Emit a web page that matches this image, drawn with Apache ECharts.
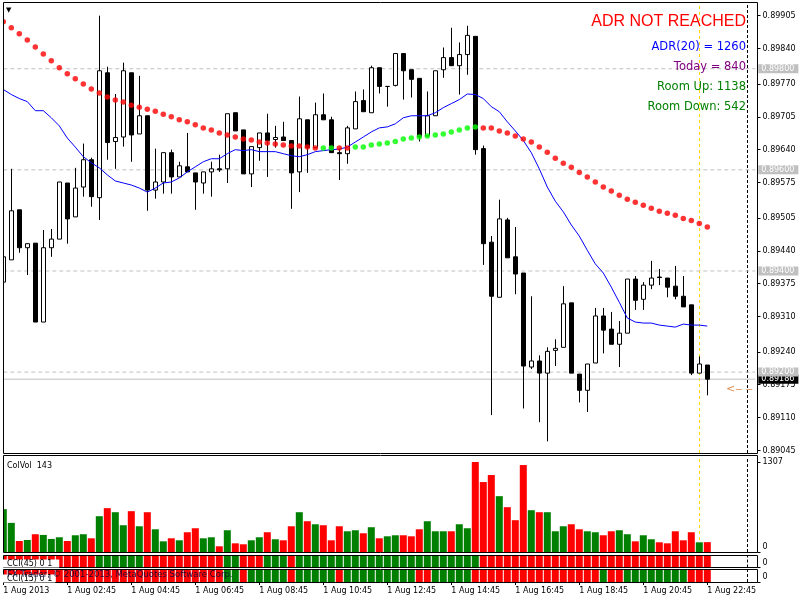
<!DOCTYPE html>
<html>
<head>
<meta charset="utf-8">
<script src="https://cdn.jsdelivr.net/npm/echarts@6/dist/echarts.min.js"></script>
<style>
html,body{margin:0;padding:0;background:#fff;}
#chart{width:800px;height:600px;}
</style>
</head>
<body>
<div id="chart"></div>
<script>
// M15 bars, 1 Aug 2013 00:45 .. 22:45  (open, close, low, high)
const candles = [
    [0.89378,0.89428,0.89362,0.89604],[0.89422,0.89519,0.89422,0.89602],[0.89521,0.89446,0.89436,0.89521],
    [0.89446,0.89454,0.89392,0.89455],[0.89455,0.89299,0.89299,0.89455],[0.89299,0.89446,0.89299,0.89481],
    [0.89446,0.89463,0.89428,0.89483],[0.89463,0.89576,0.89463,0.89576],[0.89574,0.89503,0.89454,0.89574],
    [0.89507,0.89564,0.89507,0.89604],[0.89566,0.89620,0.89547,0.89652],[0.89620,0.89547,0.89527,0.89624],
    [0.89545,0.89796,0.89501,0.89905],[0.89792,0.89654,0.89620,0.89804],[0.89656,0.89664,0.89602,0.89750],
    [0.89665,0.89796,0.89646,0.89812],[0.89792,0.89669,0.89616,0.89792],[0.89671,0.89707,0.89671,0.89786],
    [0.89707,0.89560,0.89519,0.89707],[0.89560,0.89576,0.89543,0.89642],[0.89576,0.89634,0.89553,0.89634],
    [0.89634,0.89586,0.89553,0.89640],[0.89586,0.89608,0.89586,0.89616],[0.89606,0.89596,0.89596,0.89673],
    [0.89594,0.89576,0.89521,0.89594],[0.89574,0.89596,0.89553,0.89596],[0.89596,0.89602,0.89547,0.89616],
    [0.89602,0.89600,0.89596,0.89630],[0.89602,0.89711,0.89574,0.89711],[0.89713,0.89677,0.89677,0.89713],
    [0.89679,0.89592,0.89592,0.89679],[0.89592,0.89646,0.89566,0.89646],[0.89644,0.89673,0.89618,0.89673],
    [0.89673,0.89658,0.89586,0.89711],[0.89660,0.89664,0.89644,0.89687],[0.89665,0.89658,0.89658,0.89695],
    [0.89658,0.89594,0.89523,0.89658],[0.89596,0.89701,0.89556,0.89745],[0.89699,0.89644,0.89594,0.89699],
    [0.89644,0.89709,0.89644,0.89733],[0.89709,0.89699,0.89699,0.89751],[0.89699,0.89634,0.89634,0.89705],
    [0.89634,0.89632,0.89580,0.89642],[0.89632,0.89683,0.89612,0.89687],[0.89681,0.89735,0.89681,0.89755],
    [0.89737,0.89715,0.89715,0.89759],[0.89713,0.89802,0.89713,0.89806],[0.89802,0.89765,0.89751,0.89802],
    [0.89765,0.89765,0.89725,0.89765],[0.89767,0.89830,0.89765,0.89830],[0.89830,0.89796,0.89739,0.89830],
    [0.89798,0.89779,0.89743,0.89798],[0.89781,0.89665,0.89656,0.89781],[0.89667,0.89707,0.89667,0.89755],
    [0.89707,0.89796,0.89707,0.89796],[0.89798,0.89822,0.89782,0.89842],[0.89822,0.89806,0.89806,0.89881],
    [0.89806,0.89828,0.89749,0.89852],[0.89828,0.89866,0.89788,0.89885],[0.89864,0.89640,0.89630,0.89864],
    [0.89642,0.89454,0.89412,0.89648],[0.89457,0.89350,0.89115,0.89469],[0.89348,0.89503,0.89348,0.89541],
    [0.89501,0.89426,0.89426,0.89505],[0.89428,0.89394,0.89354,0.89487],[0.89396,0.89212,0.89128,0.89396],
    [0.89210,0.89222,0.89206,0.89350],[0.89222,0.89198,0.89101,0.89233],[0.89198,0.89241,0.89063,0.89249],
    [0.89243,0.89247,0.89212,0.89265],[0.89249,0.89335,0.89249,0.89370],[0.89337,0.89198,0.89198,0.89337],
    [0.89196,0.89164,0.89140,0.89196],[0.89164,0.89216,0.89121,0.89216],[0.89218,0.89311,0.89218,0.89327],
    [0.89311,0.89283,0.89237,0.89327],[0.89285,0.89255,0.89255,0.89319],[0.89255,0.89277,0.89210,0.89301],
    [0.89277,0.89384,0.89277,0.89384],[0.89384,0.89342,0.89323,0.89390],[0.89344,0.89372,0.89323,0.89378],
    [0.89372,0.89386,0.89364,0.89420],[0.89388,0.89387,0.89372,0.89404],[0.89386,0.89368,0.89348,0.89386],
    [0.89370,0.89350,0.89344,0.89410],[0.89350,0.89329,0.89329,0.89390],[0.89333,0.89198,0.89194,0.89333],
    [0.89198,0.89216,0.89198,0.89231],[0.89214,0.89186,0.89154,0.89214]
];

// blue moving average
const maLine = [
    0.89759,0.89749,0.89741,0.89735,0.89717,0.89717,0.89703,0.89687,0.89663,0.89645,
    0.89626,0.89614,0.89604,0.89590,0.89578,0.89574,0.89570,0.89564,0.89556,0.89564,
    0.89574,0.89576,0.89584,0.89596,0.89606,0.89616,0.89622,0.89622,0.89632,0.89640,
    0.89638,0.89640,0.89636,0.89636,0.89636,0.89632,0.89628,0.89626,0.89630,0.89636,
    0.89638,0.89640,0.89641,0.89645,0.89655,0.89665,0.89675,0.89683,0.89685,0.89691,
    0.89703,0.89707,0.89707,0.89707,0.89713,0.89723,0.89731,0.89739,0.89750,0.89749,
    0.89741,0.89725,0.89715,0.89695,0.89677,0.89658,0.89634,0.89602,0.89566,0.89538,
    0.89517,0.89491,0.89469,0.89441,0.89414,0.89396,0.89368,0.89338,0.89307,0.89299,
    0.89297,0.89297,0.89293,0.89291,0.89289,0.89295,0.89293,0.89293,0.89291
];

// red / lime dotted curve
const dotLine = [
    0.89893,0.89881,0.89869,0.89857,0.89843,0.89829,0.89816,0.89802,0.89790,0.89780,
    0.89770,0.89760,0.89752,0.89744,0.89738,0.89734,0.89728,0.89724,0.89720,0.89716,
    0.89710,0.89705,0.89699,0.89695,0.89689,0.89683,0.89679,0.89673,0.89669,0.89665,
    0.89661,0.89659,0.89655,0.89653,0.89651,0.89649,0.89647,0.89647,0.89645,0.89643,
    0.89643,0.89643,0.89643,0.89643,0.89645,0.89645,0.89649,0.89651,0.89653,0.89656,
    0.89661,0.89663,0.89665,0.89667,0.89669,0.89671,0.89675,0.89679,0.89683,0.89685,
    0.89683,0.89683,0.89677,0.89673,0.89667,0.89661,0.89655,0.89645,0.89635,0.89623,
    0.89613,0.89605,0.89595,0.89586,0.89576,0.89566,0.89558,0.89550,0.89542,0.89536,
    0.89530,0.89524,0.89518,0.89514,0.89510,0.89504,0.89500,0.89494,0.89487
];
const dotUpBars = [40,41,44,45,46,47,48,49,50,51,52,53,54,55,56,57,58,59];

const volumes = [
    622,423,160,175,258,248,190,214,160,243,258,199,520,637,578,389,593,374,578,330,
    155,199,170,287,345,199,214,83,316,126,112,170,214,287,185,170,374,578,447,403,
    389,170,374,301,316,272,360,199,228,243,243,228,330,447,301,301,301,403,345,1307,
    1016,1118,811,651,462,1263,607,578,578,301,374,403,330,301,287,243,301,316,258,155,
    243,185,141,126,301,170,287,141,143
];

// 1 = green, 0 = red
const cci45 = [
    0,0,0,0,0,0,0,0,0,0,0,0,1,1,1,1,1,1,0,0,
    0,0,0,0,0,0,0,0,1,1,0,0,0,1,1,1,0,1,1,1,
    1,1,1,1,1,1,1,1,1,1,1,1,1,1,1,1,1,1,1,1,
    0,0,0,0,0,0,0,0,0,0,0,0,0,0,0,0,0,0,0,0,
    0,0,0,0,0,0,0,0,0
];
const cci15 = [
    0,0,0,0,0,0,0,0,0,0,0,0,0,0,0,0,0,0,0,0,
    0,0,0,0,0,0,0,0,1,1,0,1,1,1,1,1,0,1,1,1,
    1,1,0,1,1,1,1,1,1,1,1,1,0,0,1,1,1,1,1,0,
    0,0,0,0,0,0,0,0,0,0,0,0,0,0,0,1,0,0,1,1,
    1,1,1,1,1,1,0,0,0
];

const priceTicks = [0.89905,0.89840,0.89770,0.89705,0.89640,0.89575,0.89505,0.89440,0.89375,0.89310,0.89240,0.89175,0.89110,0.89045];
const levelLines = [0.89800,0.89600,0.89400,0.89200];
const bidPrice = 0.89186;
const arrowPrice = 0.89166;
const volTicks = [0,1307];
const timeTicks = ['1 Aug 2013','1 Aug 02:45','1 Aug 04:45','1 Aug 06:45','1 Aug 08:45','1 Aug 10:45',
    '1 Aug 12:45','1 Aug 14:45','1 Aug 16:45','1 Aug 18:45','1 Aug 20:45','1 Aug 22:45'];
const infoLines = [
    {text:'ADR NOT REACHED', color:'#FF0000'},
    {text:'ADR(20) = 1260', color:'#0000FF'},
    {text:'Today = 840', color:'#800080'},
    {text:'Room Up: 1138', color:'#008000'},
    {text:'Room Down: 542', color:'#008000'}
];

const SLOTS = 95;       // bars + chart shift
const periodBar = 87;   // yellow separator
const shiftBar = 93;    // black dashed shift line
const FONT = 'DejaVu Sans';
const GREEN = '#008000', RED = '#FF0000';

const categories = [];
for (let i = 0; i < SLOTS; i++) {
    const m = 45 + 15 * i;
    categories.push(String(Math.floor(m / 60) % 24).padStart(2, '0') + ':' + String(m % 60).padStart(2, '0') + '#' + i);
}

const chart = echarts.init(document.getElementById('chart'));

const gridBase = {left: -0.7, width: 760, outerBoundsMode: 'none', containLabel: false};
const lowRich = {lo: {fontSize: 8, fontFamily: FONT, color: '#000', padding: [0, 0, 10, 0]}};
function sideAxis(grid, min, max, ticks, fmt) {
    return {
        type: 'value', gridIndex: grid, position: 'right', min: min, max: max, offset: -1.8,
        splitLine: {show: false}, axisLine: {show: false},
        axisTick: {show: true, customValues: ticks, length: 3, lineStyle: {color: '#000'}},
        axisLabel: {customValues: ticks, formatter: fmt, fontSize: 8, fontFamily: FONT, color: '#000', margin: 5, rich: lowRich}
    };
}
function catAxis(grid, showIt) {
    const every = (i) => i % 8 === 0 && i <= 88;
    return {
        type: 'category', gridIndex: grid, data: categories, boundaryGap: true, show: showIt,
        axisLine: {show: false},
        axisTick: {show: true, alignWithLabel: true, interval: every, length: 3, lineStyle: {color: '#000'}},
        axisLabel: {interval: every, align: 'left', margin: 5, fontSize: 8, fontFamily: FONT, color: '#000',
            formatter: (v, idx) => timeTicks[idx / 8]}
    };
}
const vLine = (bar, color, dash) => ({xAxis: bar, lineStyle: {color: color, type: dash, width: 1}, label: {show: false}});

// horizontal price level drawn across the whole main panel, with a price box at its right end
function levelSeries(price, dash, boxColor) {
    return {
        type: 'line', xAxisIndex: 0, yAxisIndex: 0, z: 1, silent: true, showSymbol: false,
        data: [[0, price], [SLOTS - 1, price]],
        lineStyle: {color: '#C0C0C0', type: dash, width: 1},
        endLabel: {show: true, distance: 3, formatter: () => price.toFixed(5), color: '#fff',
            backgroundColor: boxColor, padding: [1, 4, 0, 3], fontSize: 8, fontFamily: FONT}
    };
}

const frames = [[3.5, 2.5, 754, 451], [3.5, 455.5, 754, 97], [3.5, 555.5, 754, 12], [3.5, 569.5, 754, 13]];

const graphics = [
    {type: 'rect', shape: {x: 0, y: 0, width: 3, height: 584}, style: {fill: '#fff'}, z: 49, silent: true}
];
frames.forEach(f => graphics.push({type: 'rect', shape: {x: f[0], y: f[1], width: f[2], height: f[3]},
    style: {fill: 'none', stroke: '#000', lineWidth: 1}, z: 50, silent: true}));
const infoY = [21.5, 47, 67, 87, 107];
infoLines.forEach((ln, k) => graphics.push({type: 'text', x: 746, y: infoY[k], z: 60, silent: true,
    style: {text: ln.text, fill: ln.color, align: 'right', verticalAlign: 'middle',
        fontSize: k === 0 ? 16 : 11.5, fontFamily: k === 0 ? 'Liberation Sans' : FONT}}));
graphics.push(
    {type: 'text', x: 6, y: 10, z: 60, silent: true, style: {text: '▼', fill: '#000', fontSize: 7, fontFamily: FONT, verticalAlign: 'middle'}},
    {type: 'text', x: 7, y: 466, z: 60, silent: true, style: {text: 'ColVol  ' + volumes[volumes.length - 1], fill: '#000', fontSize: 8, fontFamily: FONT, verticalAlign: 'middle'}},
    {type: 'text', x: 3, y: 559.5, z: 60, silent: true, style: {text: 'CCI(45) 0 1', fill: '#000', fontSize: 8, fontFamily: FONT,
        verticalAlign: 'top', backgroundColor: '#fff', padding: [0, 7, 0, 4]}},
    {type: 'text', x: 3, y: 574.5, z: 60, silent: true, style: {text: 'CCI(15) 0 1', fill: '#000', fontSize: 8, fontFamily: FONT,
        verticalAlign: 'top', backgroundColor: '#fff', padding: [0, 3, 0, 4]}},
    {type: 'text', x: 7, y: 575, z: 61, silent: true, style: {text: 'FX Trader, \u00a9 2001-2013, MetaQuotes Software Corp.',
        fill: 'rgba(10,10,60,0.9)', fontSize: 8.5, fontFamily: FONT, verticalAlign: 'middle'}}
);

const cciBars = arr => arr.map(v => ({value: 1, itemStyle: {color: v ? GREEN : RED}}));

chart.setOption({
    animation: false,
    backgroundColor: '#fff',
    grid: [
        Object.assign({top: 3, height: 450}, gridBase),
        Object.assign({top: 457, height: 95}, gridBase),
        Object.assign({top: 556, height: 11.5}, gridBase),
        Object.assign({top: 570, height: 12}, gridBase)
    ],
    xAxis: [catAxis(0, false), catAxis(1, false), catAxis(2, false), catAxis(3, true)],
    yAxis: [
        sideAxis(0, 0.89040, 0.89930, priceTicks, v => v.toFixed(5)),
        sideAxis(1, 0, 1380, volTicks, v => v === 0 ? '{lo|0}' : String(v)),
        sideAxis(2, 0, 1, [0], () => '{lo|0}'),
        sideAxis(3, 0, 1, [0], () => '{lo|0}')
    ],
    graphic: graphics,
    series: [
        levelSeries(bidPrice, 'solid', '#000'),
        ...levelLines.map(p => levelSeries(p, [4, 3], '#C0C0C0')),
        {
            type: 'candlestick', xAxisIndex: 0, yAxisIndex: 0, data: candles, barWidth: 4, z: 2,
            itemStyle: {color: '#fff', color0: '#000', borderColor: '#000', borderColor0: '#000', borderColorDoji: '#000', borderWidth: 1}
        },
        {
            type: 'line', xAxisIndex: 0, yAxisIndex: 0, data: maLine, showSymbol: false, z: 3, silent: true,
            lineStyle: {color: '#0000FF', width: 1},
            markLine: {
                z: 1, silent: true, symbol: 'none', label: {show: false}, animation: false,
                data: [vLine(periodBar, '#FFD700', [3, 3]), vLine(shiftBar, '#000', [3, 2])]
            }
        },
        {
            type: 'scatter', xAxisIndex: 0, yAxisIndex: 0, symbolSize: 5.5, z: 4, silent: true,
            data: dotLine.map((v, i) => ({value: [i, v], itemStyle: {color: dotUpBars.includes(i) ? '#00FF00' : '#FF0000'}}))
        },
        {
            type: 'scatter', xAxisIndex: 0, yAxisIndex: 0, symbolSize: 1, z: 4, silent: true,
            itemStyle: {color: 'rgba(0,0,0,0)'},
            label: {show: true, position: 'inside', formatter: '<\u2012 \u2012', color: '#D2691E', fontSize: 11, fontFamily: FONT},
            data: [[92, arrowPrice]]
        },
        {
            type: 'bar', xAxisIndex: 1, yAxisIndex: 1, barWidth: 7, z: 2,
            data: volumes.map((v, i) => ({value: v, itemStyle: {color: candles[i][1] >= candles[i][0] ? GREEN : RED}})),
            markLine: {z: 1, silent: true, symbol: 'none', label: {show: false},
                data: [vLine(periodBar, '#FFD700', [3, 3]), vLine(shiftBar, '#000', [3, 2])]}
        },
        {
            type: 'bar', xAxisIndex: 2, yAxisIndex: 2, barWidth: 7, z: 2, data: cciBars(cci45),
            markLine: {z: 1, silent: true, symbol: 'none', label: {show: false}, data: [vLine(shiftBar, '#000', [3, 2])]}
        },
        {
            type: 'bar', xAxisIndex: 3, yAxisIndex: 3, barWidth: 7, z: 2, data: cciBars(cci15),
            markLine: {z: 1, silent: true, symbol: 'none', label: {show: false}, data: [vLine(shiftBar, '#000', [3, 2])]}
        }
    ]
});

window.addEventListener('resize', () => chart.resize());
</script>
</body>
</html>
